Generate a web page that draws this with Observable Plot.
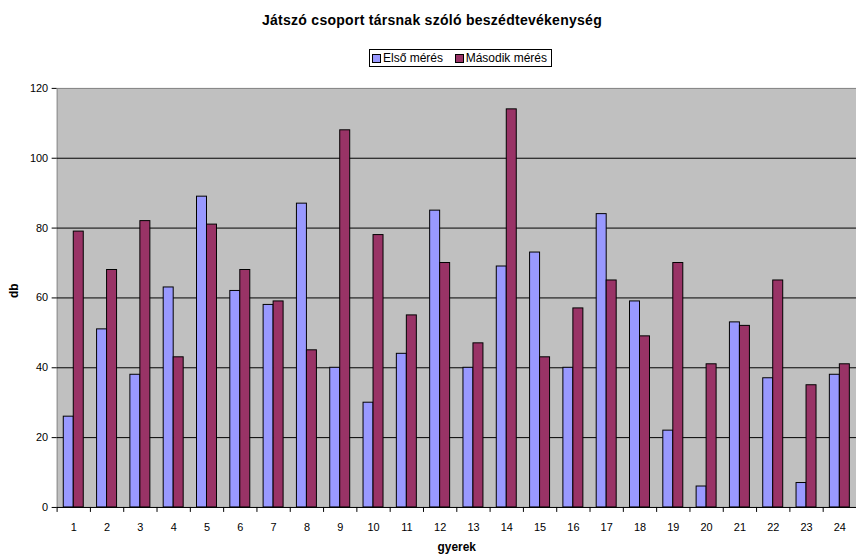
<!DOCTYPE html>
<html>
<head>
<meta charset="utf-8">
<script src="https://cdn.jsdelivr.net/npm/d3@7"></script>
<script src="https://cdn.jsdelivr.net/npm/@observablehq/plot@0.6"></script>
<style>
  html, body { margin: 0; padding: 0; background: #fff; overflow: hidden; width: 856px; height: 557px; }
  body { font-family: "Liberation Sans", Arial, sans-serif; position: relative; }
  #title { position: absolute; left: 0; width: 864px; top: 12px; line-height: 16px; text-align: center; font-weight: bold; font-size: 14px; color: #000; white-space: nowrap; }
  #title span { display: inline-block; }
  #legend { position: absolute; left: 369px; top: 49px; width: 183px; height: 18px; border: 1px solid #000; box-sizing: border-box; display: flex; align-items: center; justify-content: space-between; padding: 0 4px 0 2px; font-size: 12px; white-space: nowrap; }
  #legend .sw { display: inline-block; width: 7px; height: 7px; border: 1px solid #000; margin-right: 2px; }
  #legend .item { display: flex; align-items: center; }
  #chart { position: absolute; left: 0; top: 75px; }
</style>
</head>
<body>
<div id="title"><span id="titletext">Játszó csoport társnak szóló beszédtevékenység</span></div>
<div id="legend"></div>
<div id="chart"></div>
<script>
const categories = ["1","2","3","4","5","6","7","8","9","10","11","12","13","14","15","16","17","18","19","20","21","22","23","24"];
const firstMeasure = [26,51,38,63,89,62,58,87,40,30,44,85,40,69,73,40,84,59,22,6,53,37,7,38];
const secondMeasure = [79,68,82,43,81,68,59,45,108,78,55,70,47,114,43,57,65,49,70,41,52,65,35,41];
const seriesNames = ["Első mérés", "Második mérés"];
const seriesColors = ["#9999FF", "#993366"];
const yTicks = [0, 20, 40, 60, 80, 100, 120];
const gridValues = [20, 40, 60, 80, 100];

const data = [];
categories.forEach((c, i) => {
  data.push({gyerek: c, series: seriesNames[0], value: firstMeasure[i]});
  data.push({gyerek: c, series: seriesNames[1], value: secondMeasure[i]});
});

const width = 862, marginLeft = 57, marginRight = 0;
const height = 482, marginTop = 13, marginBottom = 47;
const step = (width - marginLeft - marginRight) / categories.length;
const bandwidth = step * 0.6;

// fit title width to the reference (~340px)
const tt = document.getElementById("titletext");
const w0 = tt.getBoundingClientRect().width;
const chars = tt.textContent.length;
tt.style.letterSpacing = Math.max(-0.5, Math.min(0.6, (340 - w0) / chars)) + "px";

const legend = document.getElementById("legend");
seriesNames.forEach((s, i) => {
  const it = document.createElement("span");
  it.className = "item";
  const sw = document.createElement("span");
  sw.className = "sw";
  sw.style.background = seriesColors[i];
  it.appendChild(sw);
  it.appendChild(document.createTextNode(s));
  legend.appendChild(it);
});

const chart = Plot.plot({
  width, height, marginLeft, marginRight, marginTop, marginBottom,
  style: {fontFamily: "'Liberation Sans', Arial, sans-serif", fontSize: "11px", color: "#000", background: "transparent", overflow: "visible"},
  x: {domain: categories, paddingInner: 0.4, paddingOuter: 0.2, round: false, axis: null},
  y: {domain: [0, 120], axis: null},
  color: {domain: seriesNames, range: seriesColors},
  marks: [
    Plot.frame({fill: "#C0C0C0", stroke: "#808080"}),
    Plot.ruleY(gridValues, {stroke: "#000", strokeWidth: 1}),
    Plot.barY(data.filter(d => d.series === seriesNames[0]), {x: "gyerek", y: "value", fill: "series", stroke: "#000", strokeWidth: 1, insetRight: bandwidth / 2}),
    Plot.barY(data.filter(d => d.series === seriesNames[1]), {x: "gyerek", y: "value", fill: "series", stroke: "#000", strokeWidth: 1, insetLeft: bandwidth / 2}),
    Plot.ruleY([0], {stroke: "#000"}),
    Plot.ruleX([0], {x: () => 0, frameAnchor: "left", stroke: "#333"}),
    Plot.axisY(yTicks, {tickSize: 5, tickPadding: 4, stroke: "#000", fill: "#000", fontSize: 11, label: null}),
    Plot.axisX(categories, {tickSize: 0, tickPadding: 16, fill: "#000", fontSize: 11, label: null}),
    Plot.ruleX(categories, {x: d => d, dx: -step / 2, y1: 0, y2: 0, insetBottom: -5, stroke: "#000"}),
    Plot.text(["db"], {frameAnchor: "left", dx: -43, rotate: -90, fontWeight: "bold", fontSize: 12, fill: "#000"}),
    Plot.text(["gyerek"], {frameAnchor: "bottom", dy: 44, fontWeight: "bold", fontSize: 12, fill: "#000"})
  ]
});
document.getElementById("chart").appendChild(chart);
</script>
</body>
</html>
